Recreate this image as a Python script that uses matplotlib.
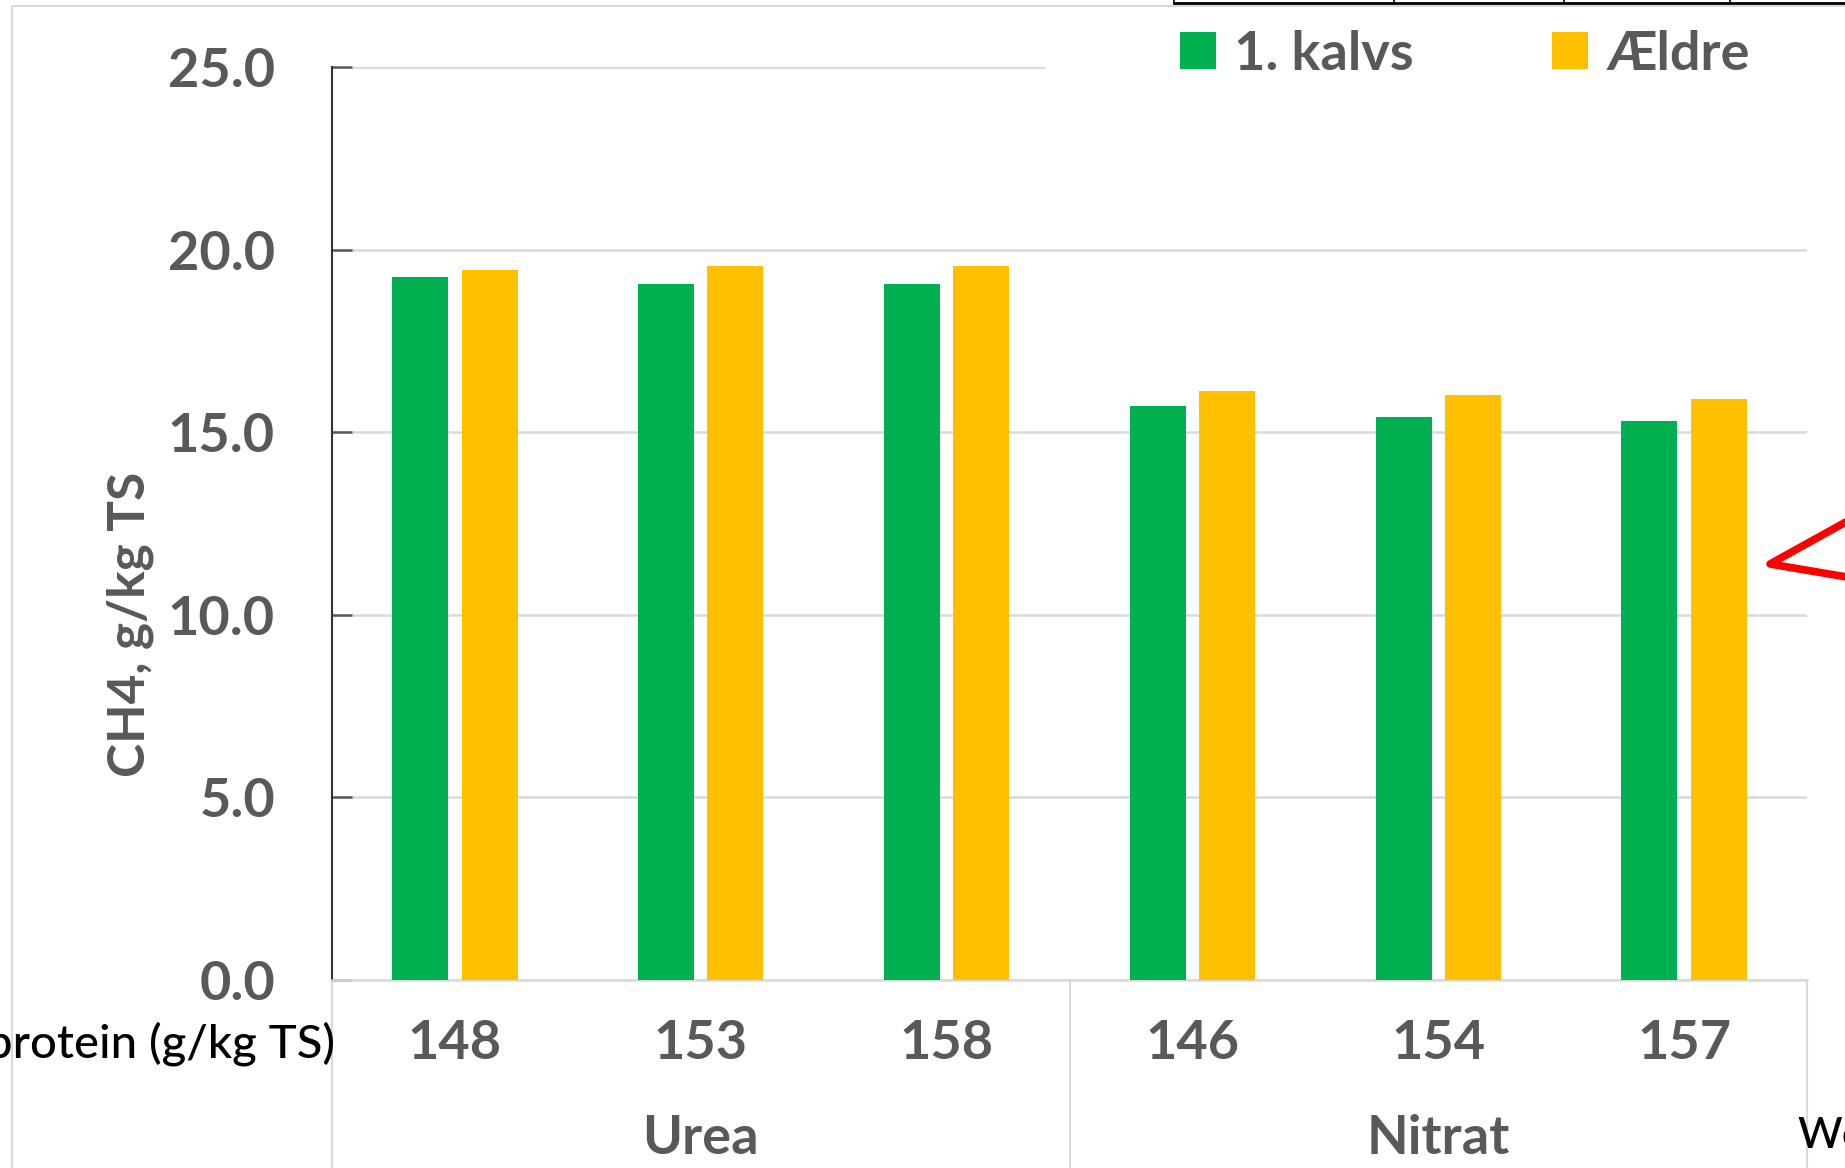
import matplotlib
matplotlib.use('Agg')

import numpy as np
import matplotlib.pyplot as plt
import matplotlib.transforms as mtransforms
from matplotlib.patches import Patch, Rectangle
from matplotlib.lines import Line2D
from matplotlib.ticker import FormatStrFormatter


# DATA
protein_levels = ["148", "153", "158", "146", "154", "157"]
groups         = ["Urea", "Nitrat"]
group_sizes    = [3, 3]
kalvs          = [19.25, 19.06, 19.06, 15.73, 15.41, 15.32]
aeldre         = [19.45, 19.55, 19.55, 16.12, 16.01, 15.90]
series_names   = ["1. kalvs", "Ældre"]

# SETTINGS
W, H       = 1845, 1168
GREEN      = "#00B050"
YELLOW     = "#FFC000"
TEXT_GREY  = "#595959"
GRID_GREY  = "#D9D9D9"
BAR_W      = 0.228
OFFSET     = 0.141

plt.rcParams['font.family'] = ['Lato', 'DejaVu Sans']


def px(x, y):
    """pixel position (from top left) -> figure fraction"""
    return x / W, 1 - y / H


fig = plt.figure(figsize=(W / 100, H / 100), dpi=100)
left, top = px(332, 67)
right, bottom = px(1807, 980)
ax = fig.add_axes([left, bottom, right - left, top - bottom])

x = np.arange(len(protein_levels))
ax.bar(x - OFFSET, kalvs, BAR_W, color=GREEN, zorder=3)
ax.bar(x + OFFSET, aeldre, BAR_W, color=YELLOW, zorder=3)

ax.set_xlim(-0.5, len(protein_levels) - 0.5)
ax.set_ylim(0, 25)
ax.set_yticks(np.arange(0, 26, 5))
ax.yaxis.set_major_formatter(FormatStrFormatter('%.1f'))
ax.grid(axis='y', color=GRID_GREY, linewidth=1.8, zorder=0)
ax.set_axisbelow(True)

for side in ["top", "right"]:
    ax.spines[side].set_visible(False)
ax.spines["left"].set_color("#333333")
ax.spines["left"].set_linewidth(1.5)
ax.spines["bottom"].set_color(GRID_GREY)
ax.spines["bottom"].set_linewidth(1.8)

ax.tick_params(axis='y', direction='in', length=14.4, width=1.8,
               color=TEXT_GREY, pad=41, labelsize=39, labelcolor=TEXT_GREY)
ax.tick_params(axis='x', length=0, pad=28, labelsize=39,
               labelcolor=TEXT_GREY)
ax.set_xticks(x)
ax.set_xticklabels(protein_levels, fontweight='bold')
for lab in ax.get_yticklabels():
    lab.set_fontweight('bold')

ax.set_ylabel("CH4, g/kg TS", fontsize=37, fontweight='bold',
              color=TEXT_GREY, va='center')
ax.yaxis.set_label_coords(-0.137, 0.389)

# multi-level category axis: separators and group labels
trans = mtransforms.blended_transform_factory(ax.transData, ax.transAxes)
edges = np.concatenate([[0], np.cumsum(group_sizes)]) - 0.5
for e in edges:
    ax.plot([e, e], [0, -0.25], transform=trans, color=GRID_GREY,
            linewidth=1.5, clip_on=False, zorder=1)
for i, g in enumerate(groups):
    centre = (edges[i] + edges[i + 1]) / 2
    ax.text(centre, -0.174, g, transform=trans, ha='center', va='center',
            fontsize=39, fontweight='bold', color=TEXT_GREY)

# legend area (white box hides the top gridline)
lx, ly = px(1046, 85)
fig.add_artist(Rectangle((lx, ly), 1 - lx, 1 - ly, transform=fig.transFigure,
                         facecolor='white', edgecolor='none', zorder=1))
handles = [Patch(facecolor=GREEN), Patch(facecolor=YELLOW)]
fig.legend(handles, series_names, loc='center left',
           bbox_to_anchor=px(1180, 54), ncol=2, frameon=False,
           borderpad=0, borderaxespad=0, handlelength=0.67,
           handleheight=0.65, handletextpad=0.33, columnspacing=2.55,
           prop={'size': 39, 'weight': 'bold'}, labelcolor=TEXT_GREY)

# slide bits around the chart
bx, by = px(12, 6)
fig.add_artist(Line2D([bx, bx, 1.0], [0, by, by], transform=fig.transFigure,
                      color=GRID_GREY, linewidth=1.5, zorder=6))
tx0, ty = px(1174, 3)
fig.add_artist(Line2D([tx0, 1.0], [ty, ty], transform=fig.transFigure,
                      color='black', linewidth=2, zorder=6))
for vx in [1174, 1394, 1564, 1730]:
    fig.add_artist(Line2D([vx / W, vx / W], [ty, 1.0],
                          transform=fig.transFigure, color='black',
                          linewidth=1.2, zorder=6))

ax0, ay0 = px(1900, 492)
ax1, ay1 = px(1770, 564)
ax2, ay2 = px(1900, 586)
fig.add_artist(Line2D([ax0, ax1, ax2], [ay0, ay1, ay2],
                      transform=fig.transFigure, color='#FF0000',
                      linewidth=5.5, solid_capstyle='round',
                      solid_joinstyle='round', zorder=6))

fig.text(*px(335, 1057), "protein (g/kg TS)", ha='right', va='baseline',
         fontsize=34, fontweight='medium', color='black')
fig.text(*px(1797, 1148), "We", ha='left', va='baseline',
         fontsize=31, fontweight='medium', color='black')

plt.savefig("out.png", dpi=100)
plt.close()
